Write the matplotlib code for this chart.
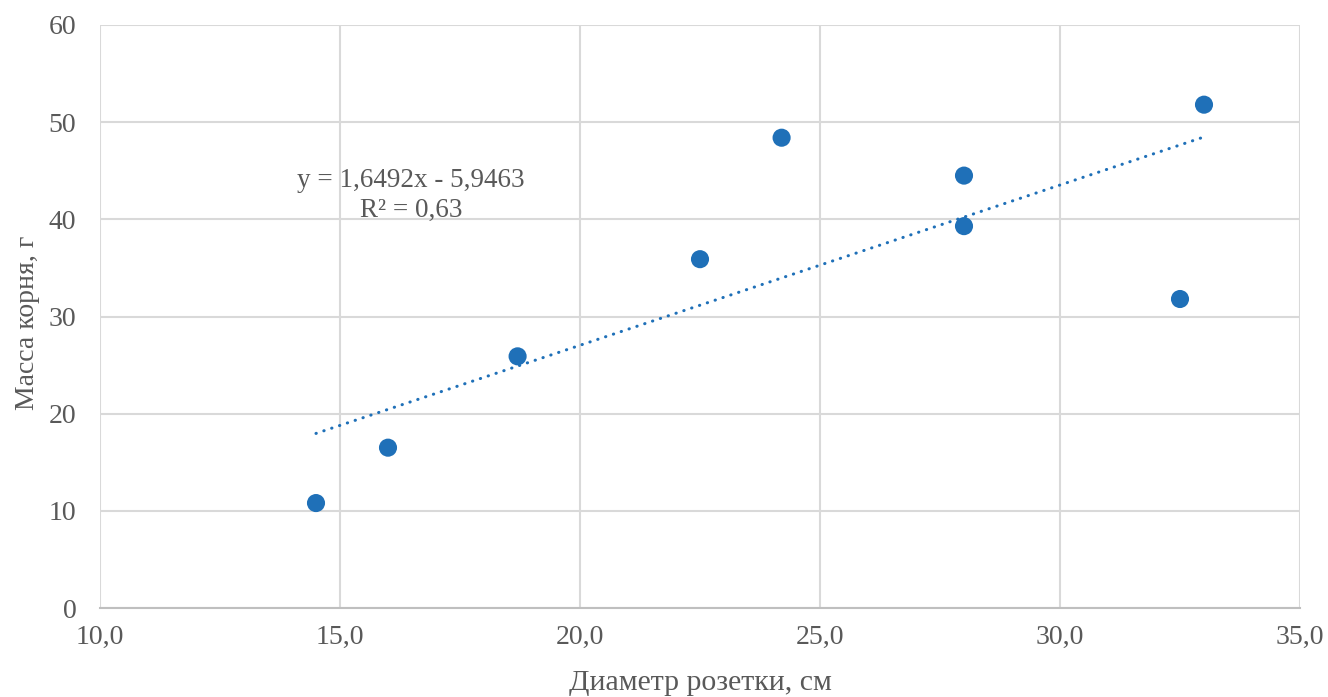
import matplotlib
matplotlib.use("Agg")
import matplotlib.pyplot as plt
import numpy as np

x_vals = [14.5, 16.0, 18.7, 22.5, 24.2, 28.0, 28.0, 32.5, 33.0]
y_vals = [10.8, 16.5, 25.9, 35.9, 48.4, 44.5, 39.3, 31.8, 51.8]
slope, intercept = 1.6492, -5.9463
eq_text = "y = 1,6492x - 5,9463\nR² = 0,63"
x_ticks = [10, 15, 20, 25, 30, 35]
x_ticklabels = ["10,0", "15,0", "20,0", "25,0", "30,0", "35,0"]
y_ticks = [0, 10, 20, 30, 40, 50, 60]
x_label = "Диаметр розетки, см"
y_label = "Масса корня, г"

plt.rcParams['font.family'] = ['Liberation Serif', 'DejaVu Serif']
text_color = "#595959"
blue = "#1f70b8"

fig = plt.figure(figsize=(13.28, 6.97), dpi=100)
ax = fig.add_axes([100/1328, 1-608/697, 1200/1328, 583/697])
ax.set_xlim(10, 35)
ax.set_ylim(0, 60)
ax.set_xticks(x_ticks)
ax.set_xticklabels(x_ticklabels)
ax.set_yticks(y_ticks)
ax.grid(True, color="#d9d9d9", linewidth=1.5)
ax.set_axisbelow(True)
for s in ["top", "right", "left"]:
    ax.spines[s].set_visible(False)
ax.spines["bottom"].set_color("#bfbfbf")
ax.spines["bottom"].set_linewidth(1.5)
ax.tick_params(axis='x', length=0, labelsize=20, colors=text_color, pad=12)
ax.tick_params(axis='y', length=0, labelsize=20, colors=text_color, pad=17)

ax.scatter(x_vals, y_vals, s=170, color=blue, zorder=3, edgecolors='none')
xt = np.array([min(x_vals), max(x_vals)])
ax.plot(xt, slope*xt + intercept, color=blue, linewidth=2.2,
        linestyle=(0, (0.1, 2.6)), dash_capstyle='round', zorder=2)

ax.text(16.48, 42.5, eq_text, ha='center', va='center', fontsize=19.5,
        color=text_color, linespacing=1.25)

ax.set_xlabel(x_label, fontsize=21.5, color=text_color)
ax.xaxis.set_label_coords(0.5, -(690 - 608) / 583)
ax.xaxis.label.set_va('baseline')
ax.set_ylabel(y_label, fontsize=20, color=text_color)
ax.yaxis.set_label_coords(-60 / 1200, 0.49)

fig.savefig("out.png", dpi=100)
